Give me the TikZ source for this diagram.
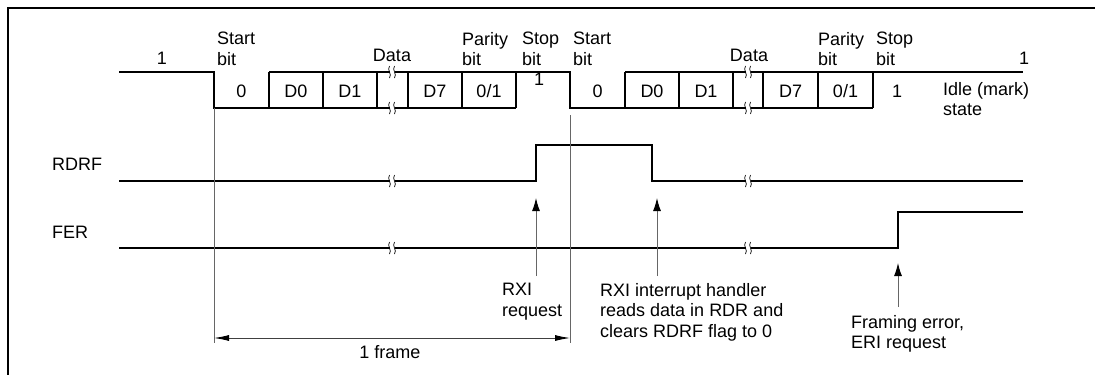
\documentclass[tikz,border=0pt]{standalone}
\usepackage{fontspec}
\setmainfont{Liberation Sans}
\usetikzlibrary{arrows.meta}
\begin{document}
\begin{tikzpicture}[x=1pt,y=-1pt,
  sig/.style={line width=1.1pt,black},
  frm/.style={line width=0.9pt,black!60},
  req/.style={line width=1pt,black!60,-{Latex[length=13pt,width=8pt,black]}},
  dimline/.style={line width=0.9pt,black!75,{Latex[length=15pt,width=6pt,black]}-{Latex[length=15pt,width=6pt,black]}},
  lbl/.style={inner sep=0pt,font=\fontsize{18}{20.5}\selectfont,align=left},
  brk/.pic={
    \fill[white] (-2.5,-6) rectangle (2.5,6);
    \draw[line width=0.7pt] (-2.5,-6) .. controls (-5.5,-2) and (0.5,2) .. (-2.5,6);
    \draw[line width=0.7pt] (2.5,-6) .. controls (-0.5,-2) and (5.5,2) .. (2.5,6);
  }]
\useasboundingbox (0,0) rectangle (1095,375);
% border
\draw[line width=2pt] (7,8) -- (1095,8);
\draw[line width=2pt] (8,8) -- (8,375);

% serial data line
\draw[sig] (119,72) -- (214,72) -- (214,108) -- (516,108);
\draw[sig] (269,72) -- (570,72) -- (570,108) -- (873,108);
\draw[sig] (625,72) -- (1023,72);
\foreach \x in {269,323,377,408,462,516,625,679,733,763,818,873}
  \draw[sig] (\x,72) -- (\x,108);

% RDRF
\draw[sig] (119,181) -- (536,181) -- (536,145) -- (652,145) -- (652,181) -- (1023,181);
% FER
\draw[sig] (119,248) -- (898,248) -- (898,212) -- (1023,212);

% break marks
\foreach \x in {392,748}
  \foreach \y in {72,108,181,248}
    \pic at (\x,\y) {brk};

% frame lines
\coordinate (fL) at (214,108);
\coordinate (fR) at (570,115);
\coordinate (fLb) at (214,343);
\coordinate (fRb) at (570,343);
\draw[frm] (fL) -- (fLb);
\draw[frm] (fR) -- (fRb);
\coordinate (dL) at (214,338);
\coordinate (dR) at (570,338);
\draw[dimline] (dL) -- (dR);

% request arrows
\coordinate (a1s) at (536,276); \coordinate (a1t) at (536,198);
\coordinate (a2s) at (657,276); \coordinate (a2t) at (657,198);
\coordinate (a3s) at (898,307); \coordinate (a3t) at (898,263);
\draw[req] (a1s) -- (a1t);
\draw[req] (a2s) -- (a2t);
\draw[req] (a3s) -- (a3t);

% top labels
\node[lbl,anchor=base] (t1) at (162,64) {1};
\node[lbl,anchor=north west] (tsb1) at (217,32) {Start\\bit};
\node[lbl,anchor=base] (td1) at (392,61) {Data};
\node[lbl,anchor=north west] (tpb1) at (462,32) {Parity\\bit};
\node[lbl,anchor=north west] (tst1) at (522,32) {Stop\\bit};
\node[lbl,anchor=north west] (tsb2) at (573,32) {Start\\bit};
\node[lbl,anchor=base] (td2) at (749,61) {Data};
\node[lbl,anchor=north west] (tpb2) at (818,32) {Parity\\bit};
\node[lbl,anchor=north west] (tst2) at (876,32) {Stop\\bit};
\node[lbl,anchor=base] (t2) at (1024,64) {1};

% cell labels
\node[lbl,anchor=base] (c1) at (241.5,97) {0};
\node[lbl,anchor=base] (c2) at (296,97) {D0};
\node[lbl,anchor=base] (c3) at (350,97) {D1};
\node[lbl,anchor=base] (c4) at (435,97) {D7};
\node[lbl,anchor=base] (c5) at (489,97) {0/1};
\node[lbl,anchor=base] (c6) at (539,85) {1};
\node[lbl,anchor=base] (c7) at (597.5,97) {0};
\node[lbl,anchor=base] (c8) at (652,97) {D0};
\node[lbl,anchor=base] (c9) at (706,97) {D1};
\node[lbl,anchor=base] (c10) at (790.5,97) {D7};
\node[lbl,anchor=base] (c11) at (845.5,97) {0/1};
\node[lbl,anchor=base] (c12) at (897,97) {1};
\node[lbl,anchor=north west] (idle) at (943,82) {Idle (mark)\\state};

% signal names
\node[lbl,anchor=base west] (rdrf) at (52,170) {RDRF};
\node[lbl,anchor=base west] (fer) at (52,238) {FER};

% bottom texts
\node[lbl,anchor=north west] (rxi) at (502,283) {RXI\\request};
\node[lbl,anchor=north west] (hdl) at (600,283) {RXI interrupt handler\\reads data in RDR and\\clears RDRF flag to 0};
\node[lbl,anchor=north west] (eri) at (851,315) {Framing error,\\ERI request};
\node[lbl,anchor=base] (frame) at (390,358) {1 frame};
\end{tikzpicture}
\end{document}
